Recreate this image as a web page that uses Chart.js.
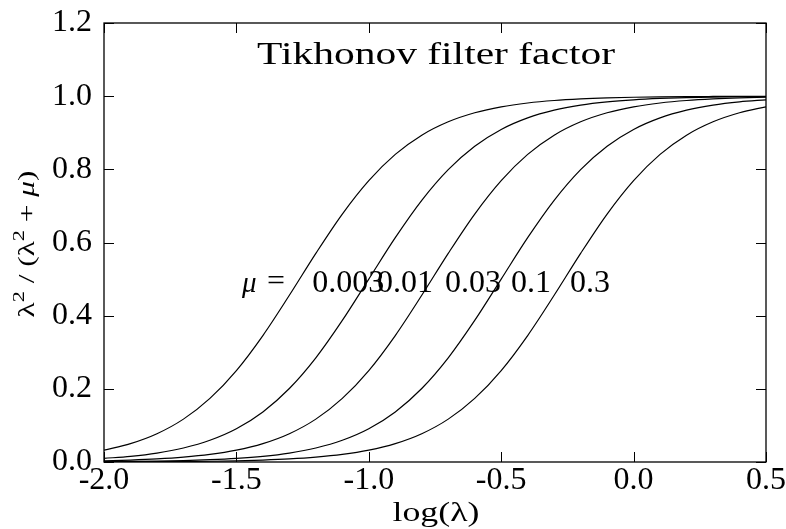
<!DOCTYPE html>
<html>
<head>
<meta charset="utf-8">
<script src="https://cdn.jsdelivr.net/npm/chart.js@4.4.0/dist/chart.umd.min.js"></script>
<style>
  html, body { margin: 0; padding: 0; background: #fff; }
  #wrap { width: 786px; height: 529px; }
</style>
</head>
<body>
<div id="wrap"><canvas id="filterChart" width="786" height="529"></canvas></div>
<script>
// log10 of lambda, sampled every 0.1
const logLambda = [-2.0, -1.9, -1.8, -1.7, -1.6, -1.5, -1.4, -1.3, -1.2, -1.1, -1.0, -0.9, -0.8,
                   -0.7, -0.6, -0.5, -0.4, -0.3, -0.2, -0.1, 0.0, 0.1, 0.2, 0.3, 0.4, 0.5]

// filter factor lambda^2 / (lambda^2 + mu) for each mu
const muLabels = ['0.003', '0.01', '0.03', '0.1', '0.3']
const factorMu0003 = [0.0323, 0.0502, 0.0773, 0.1172, 0.1738, 0.2500, 0.3457, 0.4557, 0.5703, 0.6778, 0.7692, 0.8408, 0.8933,
                      0.9299, 0.9546, 0.9709, 0.9814, 0.9882, 0.9925, 0.9953, 0.9970, 0.9981, 0.9988, 0.9992, 0.9995, 0.9997]
const factorMu001 = [0.0099, 0.0156, 0.0245, 0.0383, 0.0594, 0.0909, 0.1368, 0.2008, 0.2847, 0.3869, 0.5000, 0.6132, 0.7153,
                     0.7992, 0.8632, 0.9091, 0.9407, 0.9617, 0.9755, 0.9844, 0.9901, 0.9937, 0.9960, 0.9975, 0.9984, 0.9990]
const factorMu003 = [0.0033, 0.0053, 0.0083, 0.0131, 0.0206, 0.0323, 0.0502, 0.0773, 0.1172, 0.1738, 0.2500, 0.3457, 0.4557,
                     0.5703, 0.6778, 0.7692, 0.8408, 0.8933, 0.9299, 0.9546, 0.9709, 0.9814, 0.9882, 0.9925, 0.9953, 0.9970]
const factorMu01 = [0.0010, 0.0016, 0.0025, 0.0040, 0.0063, 0.0099, 0.0156, 0.0245, 0.0383, 0.0594, 0.0909, 0.1368, 0.2008,
                    0.2847, 0.3869, 0.5000, 0.6132, 0.7153, 0.7992, 0.8632, 0.9091, 0.9407, 0.9617, 0.9755, 0.9844, 0.9901]
const factorMu03 = [0.0003, 0.0005, 0.0008, 0.0013, 0.0021, 0.0033, 0.0053, 0.0083, 0.0131, 0.0206, 0.0323, 0.0502, 0.0773,
                    0.1172, 0.1738, 0.2500, 0.3457, 0.4557, 0.5703, 0.6778, 0.7692, 0.8408, 0.8933, 0.9299, 0.9546, 0.9709]

const xTicks = [-2.0, -1.5, -1.0, -0.5, 0.0, 0.5]
const yTicks = [0.0, 0.2, 0.4, 0.6, 0.8, 1.0, 1.2]

const SERIF = '"Liberation Serif", "Times New Roman", serif'

// draws text squeezed or stretched horizontally to a given width
function fitText(ctx, text, x, y, font, width, align) {
    ctx.save()
    ctx.font = font
    const w = ctx.measureText(text).width
    const sx = width ? width / w : 1
    ctx.translate(x, y)
    ctx.scale(sx, 1)
    ctx.textAlign = align || 'left'
    ctx.textBaseline = 'alphabetic'
    ctx.fillStyle = '#000'
    ctx.fillText(text, 0, 0)
    ctx.restore()
}

const framePlugin = {
    id: 'frame',
    afterDraw(chart) {
        const { ctx, chartArea: a, scales: { x, y } } = chart
        ctx.save()
        ctx.strokeStyle = '#000'
        ctx.lineWidth = 1.3
        ctx.strokeRect(a.left, a.top, a.right - a.left, a.bottom - a.top)

        // inward ticks on all four sides
        ctx.lineWidth = 1
        ctx.beginPath()
        xTicks.forEach(v => {
            const px = Math.round(x.getPixelForValue(v)) + 0.5
            ctx.moveTo(px, a.bottom); ctx.lineTo(px, a.bottom - 10)
            ctx.moveTo(px, a.top); ctx.lineTo(px, a.top + 10)
        })
        yTicks.forEach(v => {
            const py = Math.round(y.getPixelForValue(v)) + 0.5
            ctx.moveTo(a.left, py); ctx.lineTo(a.left + 10, py)
            ctx.moveTo(a.right, py); ctx.lineTo(a.right - 10, py)
        })
        ctx.stroke()
        ctx.restore()

        fitText(ctx, 'Tikhonov filter factor', 257, 64, '32px ' + SERIF, 358, 'left')

        // mu labels next to the half-way point of each curve
        const labelX = [-1.214, -0.969, -0.712, -0.463, -0.240]
        const baseY = y.getPixelForValue(0.465)
        fitText(ctx, '\u03bc', 242, baseY, 'italic 29px ' + SERIF, 0, 'left')
        fitText(ctx, '=', 267, baseY - 2, '29px ' + SERIF, 18, 'left')
        muLabels.forEach((t, i) => {
            fitText(ctx, t, x.getPixelForValue(labelX[i]), baseY, '32px ' + SERIF, 0, 'left')
        })

        fitText(ctx, 'log(\u03bb)', 436, 521, '27px ' + SERIF, 87, 'center')

        // rotated y title with superscripts
        const parts = [
            { t: '\u03bb', f: '24px ' + SERIF, dy: 0 },
            { t: '2', f: '17px ' + SERIF, dy: -10 },
            { t: ' / (', f: '24px ' + SERIF, dy: 0 },
            { t: '\u03bb', f: '24px ' + SERIF, dy: 0 },
            { t: '2', f: '17px ' + SERIF, dy: -10 },
            { t: ' + ', f: '24px ' + SERIF, dy: 0 },
            { t: '\u03bc', f: 'italic 24px ' + SERIF, dy: 0 },
            { t: ')', f: '24px ' + SERIF, dy: 0 }
        ]
        ctx.save()
        let total = 0
        parts.forEach(p => { ctx.font = p.f; p.w = ctx.measureText(p.t).width; total += p.w })
        const sx = 147 / total
        ctx.translate(34, 244)
        ctx.rotate(-Math.PI / 2)
        ctx.scale(sx, 1)
        ctx.fillStyle = '#000'
        ctx.textBaseline = 'alphabetic'
        let cx = -total / 2
        parts.forEach(p => {
            ctx.font = p.f
            ctx.fillText(p.t, cx, p.dy)
            cx += p.w
        })
        ctx.restore()
    }
}

const series = [factorMu0003, factorMu001, factorMu003, factorMu01, factorMu03]

new Chart(document.getElementById('filterChart'), {
    type: 'line',
    data: {
        datasets: series.map((vals, i) => ({
            label: muLabels[i],
            data: vals.map((v, j) => ({ x: logLambda[j], y: v })),
            borderColor: '#000',
            borderWidth: 1.2,
            pointRadius: 0,
            cubicInterpolationMode: 'monotone',
            fill: false
        }))
    },
    options: {
        responsive: false,
        animation: false,
        layout: { padding: { top: 23, right: 20, left: 0, bottom: 0 } },
        plugins: {
            legend: { display: false },
            tooltip: { enabled: false }
        },
        scales: {
            x: {
                type: 'linear',
                min: -2,
                max: 0.5,
                afterBuildTicks: s => { s.ticks = xTicks.map(v => ({ value: v })) },
                afterFit: s => { s.height = 67; s.paddingLeft = 0; s.paddingRight = 0 },
                grid: { display: false, drawTicks: false },
                border: { display: false },
                ticks: {
                    color: '#000',
                    padding: -1,
                    maxRotation: 0,
                    font: { family: SERIF, size: 32 },
                    callback: v => v.toFixed(1)
                }
            },
            y: {
                min: 0,
                max: 1.2,
                afterBuildTicks: s => { s.ticks = yTicks.map(v => ({ value: v })) },
                afterFit: s => { s.width = 104; s.paddingTop = 0; s.paddingBottom = 0 },
                grid: { display: false, drawTicks: false },
                border: { display: false },
                ticks: {
                    color: '#000',
                    padding: 12,
                    font: { family: SERIF, size: 32 },
                    callback: v => v.toFixed(1)
                }
            }
        }
    },
    plugins: [framePlugin]
})
</script>
</body>
</html>
